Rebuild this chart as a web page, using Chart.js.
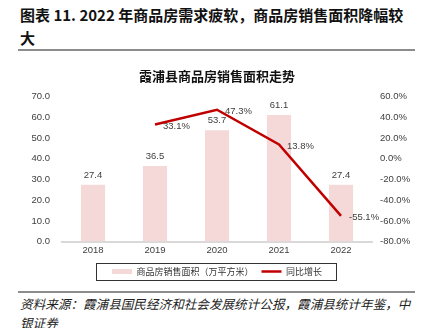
<!DOCTYPE html>
<html>
<head>
<meta charset="utf-8">
<script src="https://cdn.jsdelivr.net/npm/chart.js@4.4.1/dist/chart.umd.min.js"></script>
<style>
  html, body { margin: 0; padding: 0; background: #fff; }
  body { width: 425px; height: 328px; position: relative; overflow: hidden; font-family: "Noto Sans CJK SC", sans-serif; }
  #head { position: absolute; left: 20px; top: 3px; white-space: nowrap; font-size: 15px; font-weight: bold; line-height: 23px; color: #111; }
  .rule { position: absolute; left: 18px; width: 397px; height: 0; border-top: 2px solid #8c8c8c; }
  #wrap { position: absolute; left: 0; top: 55px; width: 425px; height: 235px; }
  #src { position: absolute; left: 20px; top: 294px; white-space: nowrap; font-size: 12.6px; line-height: 19px; font-style: italic; color: #222; }
</style>
</head>
<body>
<div id="head">图表 11. 2022 年商品房需求疲软，商品房销售面积降幅较<br>大</div>
<div class="rule" style="top:49px"></div>
<div id="wrap"><canvas id="c"></canvas></div>
<div class="rule" style="top:291px"></div>
<div id="src">资料来源：霞浦县国民经济和社会发展统计公报，霞浦县统计年鉴，中<br>银证券</div>
<script>
var years = ['2018', '2019', '2020', '2021', '2022'];
var area = [27.4, 36.5, 53.7, 61.1, 27.4];
var growth = [null, 33.1, 47.3, 13.8, -55.1];

var tickFont = { family: 'Liberation Sans', size: 9.5 };

// value labels and legend frame
var labelPlugin = {
    id: 'labels',
    afterDatasetsDraw: function (chart) {
        var ctx = chart.ctx;
        ctx.save();
        ctx.font = '9.5px "Liberation Sans"';
        ctx.fillStyle = '#404040';
        chart.getDatasetMeta(0).data.forEach(function (bar, i) {
            ctx.textAlign = 'center';
            ctx.textBaseline = 'bottom';
            ctx.fillText(area[i].toFixed(1), bar.x, bar.y - 5);
        });
        chart.getDatasetMeta(1).data.forEach(function (pt, i) {
            if (growth[i] === null) return;
            ctx.textAlign = 'left';
            ctx.textBaseline = 'middle';
            ctx.fillText(growth[i].toFixed(1) + '%', pt.x + 8, pt.y + 2);
        });
        ctx.restore();
    },
    afterDraw: function (chart) {
        var boxes = chart.legend.legendHitBoxes;
        if (!boxes || !boxes.length) return;
        var l = Math.min.apply(null, boxes.map(function (b) { return b.left; }));
        var r = Math.max.apply(null, boxes.map(function (b) { return b.left + b.width; }));
        var t = boxes[0].top, h = boxes[0].height;
        var ctx = chart.ctx;
        ctx.save();
        ctx.strokeStyle = '#333';
        ctx.lineWidth = 1;
        ctx.strokeRect(Math.round(l - 16) + 0.5, Math.round(t - 4) + 0.5, Math.round(r - l + 30), Math.round(h + 8));
        ctx.restore();
    }
};

new Chart(document.getElementById('c').getContext('2d'), {
    type: 'bar',
    data: {
        labels: years,
        datasets: [{
            label: '商品房销售面积（万平方米）',
            data: area,
            backgroundColor: '#f5d9d9',
            categoryPercentage: 1,
            barPercentage: 0.39,
            pointStyle: 'rect',
            yAxisID: 'y',
            order: 2
        }, {
            type: 'line',
            label: '同比增长',
            data: growth,
            borderColor: '#c00000',
            backgroundColor: '#c00000',
            borderWidth: 2.5,
            pointRadius: 0,
            pointStyle: 'line',
            tension: 0,
            yAxisID: 'y1',
            order: 1
        }]
    },
    options: {
        responsive: true,
        maintainAspectRatio: false,
        animation: false,
        layout: { padding: { top: 0, bottom: 4, left: 0, right: 0 } },
        plugins: {
            title: {
                display: true,
                text: '霞浦县商品房销售面积走势',
                fullSize: false,
                color: '#111',
                font: { family: 'Noto Sans CJK SC', size: 13, weight: 'bold' },
                padding: { top: 13, bottom: 13 }
            },
            legend: {
                position: 'bottom',
                fullSize: false,
                labels: {
                    usePointStyle: true,
                    pointStyleWidth: 20,
                    boxHeight: 5,
                    color: '#333',
                    padding: 8,
                    font: { family: 'Noto Sans CJK SC', size: 9 },
                    sort: function (a, b) { return a.datasetIndex - b.datasetIndex; }
                }
            },
            tooltip: { enabled: false }
        },
        scales: {
            x: {
                grid: { display: false, drawTicks: false },
                border: { color: '#d9d9d9', width: 2 },
                ticks: { color: '#404040', font: tickFont, padding: 3 }
            },
            y: {
                position: 'left',
                min: 0,
                max: 70,
                grid: { display: false, drawTicks: false },
                border: { display: false },
                ticks: {
                    stepSize: 10,
                    color: '#404040',
                    font: tickFont,
                    padding: 12,
                    callback: function (v) { return v.toFixed(1); }
                },
                afterFit: function (s) { s.width = 62; }
            },
            y1: {
                position: 'right',
                min: -80,
                max: 60,
                grid: { display: false, drawTicks: false },
                border: { display: false },
                ticks: {
                    stepSize: 20,
                    color: '#404040',
                    font: tickFont,
                    padding: 8,
                    callback: function (v) { return v.toFixed(1) + '%'; }
                },
                afterFit: function (s) { s.width = 53; }
            }
        }
    },
    plugins: [labelPlugin]
});
</script>
</body>
</html>
